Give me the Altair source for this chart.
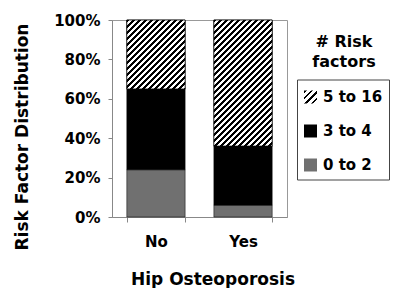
import json
import math
import altair as alt
import pandas as pd

# ---- data ----
groups = ["No", "Yes"]
categories = ["0 to 2", "3 to 4", "5 to 16"]
no_values = [24, 41, 35]
yes_values = [6, 30, 64]
legend_order = ["5 to 16", "3 to 4", "0 to 2"]
y_ticks = [0, 0.2, 0.4, 0.6, 0.8, 1.0]
legend_title = "# Risk\nfactors"
x_title = "Hip Osteoporosis"
y_title = "Risk Factor Distribution"

# ---- styles ----
GRAY = "#707070"
FONT = "DejaVu Sans"

rows = []
for g, vals in zip(groups, [no_values, yes_values]):
    for i, (c, v) in enumerate(zip(categories, vals)):
        rows.append({"group": g, "cat": c, "order": i, "value": v})
df = pd.DataFrame(rows)

W, H = 175, 197
P_IN, P_OUT = 0.33, 0.17
step = W / (len(groups) - P_IN + 2 * P_OUT)
bw = step * (1 - P_IN)


def hatch(w, h, period=6.0, frac=0.45):
    """Diagonal '/' stripes as a linear gradient in bounding-box units."""
    a = (w + h) / (w * w + h * h)
    n = (w + h) / period
    stops = []
    k = 0
    while k < n:
        s = k / n
        e = min((k + frac) / n, 1.0)
        stops += [
            {"offset": round(s, 5), "color": "white"},
            {"offset": round(s, 5), "color": "black"},
            {"offset": round(e, 5), "color": "black"},
            {"offset": round(e, 5), "color": "white"},
        ]
        k += 1
    return {"gradient": "linear", "x1": 0, "y1": 0, "x2": round(a * w, 5),
            "y2": round(a * h, 5), "stops": stops}


tot_no = sum(no_values)
tot_yes = sum(yes_values)
grad_no = hatch(bw, H * no_values[2] / tot_no)
grad_yes = hatch(bw, H * yes_values[2] / tot_yes)
grad_legend = hatch(13, 13, period=6.5, frac=0.45)

color_range = [alt.ExprRef(expr=json.dumps(grad_legend)), "#000000", GRAY]

base = alt.Chart(df).transform_stack(
    stack="value", as_=["y0", "y1"], groupby=["group"], offset="normalize",
    sort=[alt.SortField("order", "ascending")],
).encode(
    x=alt.X("group:N", sort=groups,
            scale=alt.Scale(paddingInner=P_IN, paddingOuter=P_OUT),
            axis=alt.Axis(title=x_title, labelAngle=0, tickBand="extent",
                          tickSize=5, labelPadding=12, labelFontSize=15,
                          titleX=100.5, titleY=67, titleBaseline="alphabetic",
                          titleFontSize=17)),
    y=alt.Y("y0:Q", scale=alt.Scale(domain=[0, 1], nice=False),
            axis=alt.Axis(title=y_title, values=y_ticks, format=".0%",
                          tickSize=4, labelPadding=8, labelFontSize=15,
                          grid=False, titleX=-85, titleY=116.5,
                          titleBaseline="alphabetic", titleFontSize=17)),
    y2="y1:Q",
)

bars = base.mark_bar(stroke="black", strokeWidth=0.5).encode(
    fill=alt.Fill(
        "cat:N",
        scale=alt.Scale(domain=legend_order, range=color_range),
        legend=alt.Legend(
            title=" ", titleFontSize=1, titlePadding=3,
            orient="none", legendX=185, legendY=59.5,
            padding=6, strokeColor="#444444", fillColor="white",
            symbolType="square", symbolSize=169, symbolStrokeWidth=0,
            labelFontSize=15, labelFont=FONT, labelFontWeight="bold",
            labelColor="black", labelOffset=5, rowPadding=18,
        ),
    )
)

hatched = base.transform_filter("datum.cat === '5 to 16'").mark_bar(
    stroke="black", strokeWidth=0.75
).encode(
    fill=alt.condition("datum.group === 'No'", alt.value(grad_no), alt.value(grad_yes))
)

title_text = alt.Chart(pd.DataFrame({"t": [legend_title]})).mark_text(
    font=FONT, fontWeight="bold", fontSize=16, lineBreak="\n", lineHeight=20,
    align="center", baseline="alphabetic", color="black",
).encode(x=alt.value(232), y=alt.value(26.5), text="t:N")

chart = alt.layer(bars, hatched, title_text).properties(
    width=W, height=H,
    autosize=alt.AutoSizeParams(type="none"),
    padding={"left": 104, "top": 12, "right": 104, "bottom": 71},
).configure_view(
    stroke="#999999", strokeWidth=1
).configure_axis(
    domainColor="#888888", tickColor="#888888",
    labelFont=FONT, labelFontWeight="bold", labelColor="black",
    titleFont=FONT, titleFontWeight="bold", titleColor="black",
)

chart.save("out.html", embed_options={"renderer": "svg", "actions": False})
